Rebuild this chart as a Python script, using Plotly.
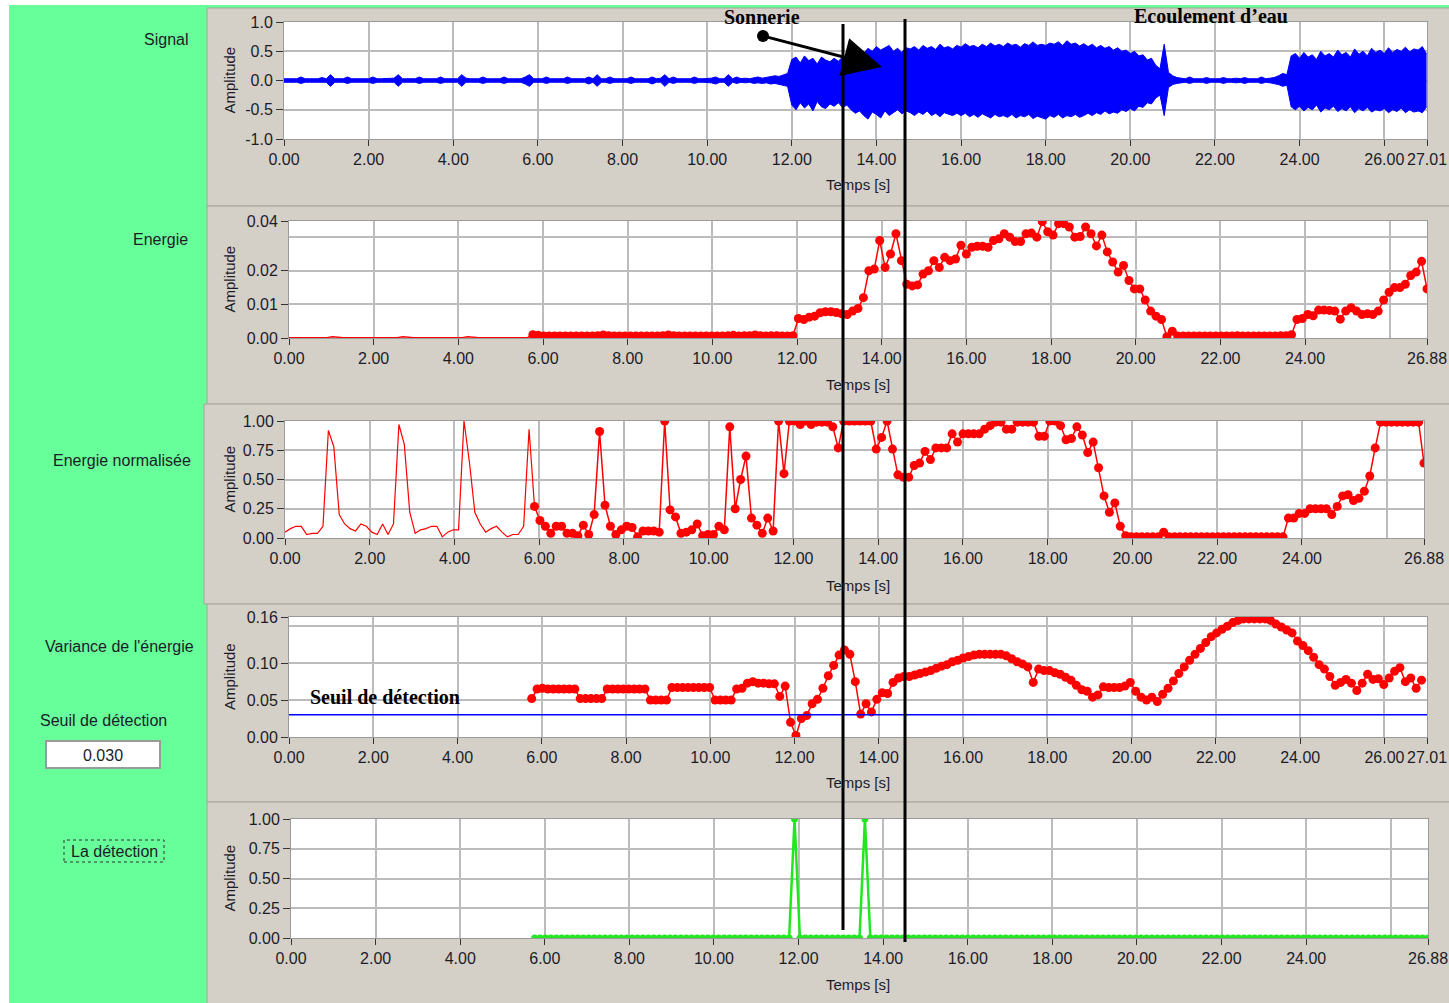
import numpy as np
import plotly.graph_objects as go

# ---------------- DATA ----------------
# frame times (s): one frame every 0.128 s, 211 frames (0 .. 26.88 s)
temps = np.round(np.arange(211) * 0.128, 3)
# signal envelope sampled every 0.1 s (0 .. 27.0 s)
temps_signal = np.round(np.arange(271) * 0.1, 1)

signal_haut = [
    0.03, 0.03, 0.03, 0.03, 0.06, 0.03, 0.03, 0.03, 0.03, 0.05,
    0.03, 0.10, 0.03, 0.03, 0.03, 0.06, 0.03, 0.03, 0.03, 0.03,
    0.03, 0.06, 0.03, 0.03, 0.03, 0.03, 0.04, 0.10, 0.03, 0.03,
    0.03, 0.03, 0.06, 0.03, 0.03, 0.03, 0.03, 0.06, 0.03, 0.03,
    0.03, 0.03, 0.10, 0.04, 0.03, 0.03, 0.03, 0.06, 0.03, 0.03,
    0.03, 0.03, 0.06, 0.03, 0.03, 0.03, 0.03, 0.06, 0.10, 0.03,
    0.03, 0.03, 0.06, 0.03, 0.03, 0.03, 0.03, 0.06, 0.03, 0.03,
    0.03, 0.03, 0.06, 0.03, 0.10, 0.03, 0.03, 0.06, 0.03, 0.03,
    0.03, 0.03, 0.06, 0.03, 0.03, 0.03, 0.03, 0.06, 0.03, 0.04,
    0.10, 0.03, 0.06, 0.03, 0.03, 0.03, 0.03, 0.06, 0.03, 0.03,
    0.03, 0.04, 0.06, 0.03, 0.03, 0.10, 0.03, 0.06, 0.03, 0.04,
    0.03, 0.05, 0.06, 0.04, 0.05, 0.06, 0.08, 0.07, 0.10, 0.12,
    0.36, 0.40, 0.30, 0.42, 0.34, 0.38, 0.28, 0.40, 0.35, 0.32,
    0.38, 0.33, 0.40, 0.36, 0.44, 0.40, 0.50, 0.46, 0.55, 0.50,
    0.58, 0.52, 0.56, 0.60, 0.50, 0.55, 0.48, 0.56, 0.54, 0.58,
    0.52, 0.60, 0.55, 0.58, 0.53, 0.62, 0.56, 0.58, 0.54, 0.60,
    0.57, 0.63, 0.58, 0.60, 0.56, 0.62, 0.58, 0.64, 0.59, 0.62,
    0.58, 0.64, 0.60, 0.62, 0.57, 0.63, 0.60, 0.66, 0.60, 0.62,
    0.60, 0.64, 0.62, 0.66, 0.60, 0.68, 0.62, 0.64, 0.59, 0.63,
    0.58, 0.62, 0.56, 0.60, 0.55, 0.58, 0.52, 0.56, 0.50, 0.52,
    0.46, 0.50, 0.42, 0.44, 0.35, 0.38, 0.26, 0.20, 0.62, 0.14,
    0.08, 0.05, 0.04, 0.03, 0.06, 0.03, 0.03, 0.03, 0.05, 0.03,
    0.03, 0.03, 0.05, 0.03, 0.03, 0.04, 0.03, 0.05, 0.03, 0.03,
    0.03, 0.06, 0.03, 0.04, 0.05, 0.08, 0.12, 0.10, 0.42, 0.46,
    0.38, 0.48, 0.40, 0.44, 0.36, 0.50, 0.42, 0.46, 0.40, 0.52,
    0.44, 0.48, 0.40, 0.54, 0.45, 0.50, 0.42, 0.55, 0.48, 0.52,
    0.46, 0.56, 0.48, 0.53, 0.50, 0.57, 0.49, 0.54, 0.52, 0.58,
    0.45,
]
signal_bas = [
    -0.03, -0.03, -0.03, -0.03, -0.05, -0.03, -0.03, -0.03, -0.03, -0.04,
    -0.03, -0.10, -0.03, -0.03, -0.03, -0.05, -0.03, -0.03, -0.03, -0.03,
    -0.03, -0.05, -0.03, -0.03, -0.03, -0.03, -0.03, -0.10, -0.03, -0.03,
    -0.03, -0.03, -0.05, -0.03, -0.03, -0.03, -0.03, -0.05, -0.03, -0.03,
    -0.03, -0.03, -0.10, -0.03, -0.03, -0.03, -0.03, -0.05, -0.03, -0.03,
    -0.03, -0.03, -0.05, -0.03, -0.03, -0.03, -0.03, -0.06, -0.10, -0.03,
    -0.03, -0.03, -0.05, -0.03, -0.03, -0.03, -0.03, -0.05, -0.03, -0.03,
    -0.03, -0.03, -0.06, -0.03, -0.10, -0.03, -0.03, -0.05, -0.03, -0.03,
    -0.03, -0.03, -0.05, -0.03, -0.03, -0.03, -0.03, -0.06, -0.03, -0.03,
    -0.10, -0.03, -0.05, -0.03, -0.03, -0.03, -0.03, -0.05, -0.03, -0.03,
    -0.03, -0.04, -0.06, -0.03, -0.03, -0.10, -0.03, -0.05, -0.03, -0.04,
    -0.03, -0.05, -0.04, -0.05, -0.04, -0.06, -0.05, -0.07, -0.08, -0.10,
    -0.42, -0.50, -0.38, -0.47, -0.40, -0.52, -0.36, -0.45, -0.48, -0.40,
    -0.44, -0.38, -0.46, -0.42, -0.50, -0.56, -0.52, -0.60, -0.66, -0.54,
    -0.58, -0.64, -0.52, -0.60, -0.55, -0.50, -0.57, -0.52, -0.55, -0.60,
    -0.54, -0.58, -0.52, -0.60, -0.56, -0.62, -0.55, -0.58, -0.60, -0.56,
    -0.60, -0.56, -0.62, -0.58, -0.63, -0.57, -0.60, -0.64, -0.58, -0.62,
    -0.60, -0.63, -0.58, -0.64, -0.60, -0.62, -0.58, -0.65, -0.61, -0.63,
    -0.66, -0.60, -0.63, -0.58, -0.64, -0.60, -0.62, -0.58, -0.63, -0.60,
    -0.56, -0.60, -0.55, -0.58, -0.52, -0.57, -0.54, -0.56, -0.50, -0.53,
    -0.48, -0.52, -0.44, -0.46, -0.38, -0.40, -0.30, -0.25, -0.60, -0.12,
    -0.07, -0.05, -0.04, -0.03, -0.05, -0.03, -0.03, -0.03, -0.05, -0.03,
    -0.03, -0.03, -0.05, -0.03, -0.03, -0.04, -0.03, -0.05, -0.03, -0.03,
    -0.03, -0.05, -0.03, -0.04, -0.05, -0.07, -0.10, -0.08, -0.45, -0.50,
    -0.44, -0.52, -0.46, -0.50, -0.42, -0.54, -0.47, -0.50, -0.44, -0.53,
    -0.48, -0.52, -0.45, -0.55, -0.48, -0.52, -0.46, -0.54, -0.50, -0.52,
    -0.48, -0.55, -0.50, -0.53, -0.47, -0.55, -0.50, -0.54, -0.52, -0.55,
    -0.45,
]

energie = [
    0.0001, 0.0001, 0.0001, 0.0001, 0.0001, 0.0001, 0.0001, 0.0001, 0.0004, 0.0002,
    0.0001, 0.0001, 0.0001, 0.0001, 0.0001, 0.0001, 0.0001, 0.0001, 0.0001, 0.0001,
    0.0001, 0.0004, 0.0002, 0.0001, 0.0001, 0.0001, 0.0001, 0.0001, 0.0001, 0.0001,
    0.0001, 0.0001, 0.0001, 0.0004, 0.0002, 0.0001, 0.0001, 0.0001, 0.0001, 0.0001,
    0.0001, 0.0001, 0.0001, 0.0001, 0.0001, 0.0010, 0.0008, 0.0006, 0.0006, 0.0006,
    0.0006, 0.0006, 0.0006, 0.0006, 0.0006, 0.0006, 0.0006, 0.0007, 0.0009, 0.0007,
    0.0006, 0.0006, 0.0006, 0.0006, 0.0006, 0.0006, 0.0006, 0.0006, 0.0006, 0.0007,
    0.0009, 0.0007, 0.0006, 0.0006, 0.0006, 0.0006, 0.0006, 0.0006, 0.0006, 0.0006,
    0.0006, 0.0007, 0.0008, 0.0006, 0.0007, 0.0007, 0.0009, 0.0007, 0.0006, 0.0007,
    0.0007, 0.0006, 0.0006, 0.0007, 0.0058, 0.0055, 0.0062, 0.0065, 0.0075, 0.0078,
    0.0078, 0.0076, 0.0072, 0.0070, 0.0080, 0.0088, 0.0120, 0.0200, 0.0205, 0.0290,
    0.0210, 0.0250, 0.0310, 0.0230, 0.0160, 0.0155, 0.0158, 0.0190, 0.0200, 0.0230,
    0.0210, 0.0240, 0.0230, 0.0235, 0.0276, 0.0250, 0.0270, 0.0273, 0.0273, 0.0270,
    0.0290, 0.0295, 0.0310, 0.0300, 0.0287, 0.0287, 0.0310, 0.0312, 0.0300, 0.0346,
    0.0316, 0.0306, 0.0340, 0.0340, 0.0330, 0.0300, 0.0302, 0.0330, 0.0310, 0.0274,
    0.0306, 0.0256, 0.0226, 0.0196, 0.0216, 0.0171, 0.0146, 0.0146, 0.0113, 0.0080,
    0.0065, 0.0055, 0.0004, 0.0020, 0.0006, 0.0006, 0.0006, 0.0006, 0.0006, 0.0006,
    0.0006, 0.0006, 0.0006, 0.0006, 0.0006, 0.0007, 0.0006, 0.0006, 0.0006, 0.0006,
    0.0006, 0.0006, 0.0006, 0.0007, 0.0007, 0.0010, 0.0055, 0.0058, 0.0070, 0.0066,
    0.0083, 0.0083, 0.0082, 0.0080, 0.0056, 0.0080, 0.0090, 0.0080, 0.0070, 0.0072,
    0.0070, 0.0080, 0.0113, 0.0136, 0.0150, 0.0150, 0.0160, 0.0186, 0.0196, 0.0228,
    0.0146,
]

energie_norm = [
    0.05, 0.08, 0.10, 0.10, 0.03, 0.04, 0.04, 0.10, 0.92, 0.78,
    0.20, 0.12, 0.08, 0.06, 0.12, 0.10, 0.05, 0.03, 0.12, 0.03,
    0.12, 0.97, 0.80, 0.22, 0.04, 0.07, 0.08, 0.10, 0.10, 0.01,
    0.05, 0.07, 0.07, 1.00, 0.65, 0.22, 0.12, 0.05, 0.08, 0.10,
    0.05, 0.01, 0.03, 0.03, 0.10, 0.93, 0.27, 0.15, 0.10, 0.04,
    0.10, 0.10, 0.04, 0.04, 0.02, 0.11, 0.03, 0.20, 0.91, 0.28,
    0.10, 0.03, 0.07, 0.10, 0.09, 0.01, 0.06, 0.06, 0.06, 0.05,
    1.00, 0.24, 0.18, 0.04, 0.05, 0.07, 0.12, 0.02, 0.03, 0.03,
    0.10, 0.07, 0.95, 0.25, 0.50, 0.70, 0.17, 0.11, 0.04, 0.17,
    0.06, 1.00, 0.55, 1.00, 1.00, 0.97, 1.00, 0.97, 0.99, 0.99,
    0.99, 0.95, 0.77, 1.00, 1.00, 1.00, 1.00, 1.00, 1.00, 0.76,
    0.86, 1.00, 0.76, 0.54, 0.52, 0.52, 0.62, 0.64, 0.74, 0.67,
    0.77, 0.77, 0.77, 0.89, 0.82, 0.89, 0.89, 0.89, 0.89, 0.93,
    0.96, 0.99, 0.99, 0.93, 0.93, 0.99, 0.99, 0.99, 0.99, 0.87,
    0.87, 1.00, 1.00, 0.96, 0.84, 0.85, 0.95, 0.88, 0.73, 0.82,
    0.60, 0.36, 0.22, 0.30, 0.10, 0.02, 0.01, 0.01, 0.01, 0.01,
    0.01, 0.01, 0.05, 0.01, 0.01, 0.01, 0.01, 0.01, 0.01, 0.01,
    0.01, 0.01, 0.01, 0.01, 0.01, 0.01, 0.01, 0.01, 0.01, 0.01,
    0.01, 0.01, 0.01, 0.01, 0.01, 0.17, 0.17, 0.21, 0.21, 0.25,
    0.25, 0.25, 0.25, 0.20, 0.27, 0.36, 0.37, 0.32, 0.34, 0.40,
    0.53, 0.77, 0.99, 0.99, 0.99, 0.99, 0.99, 0.99, 0.99, 0.99,
    0.64,
]

# variance and detection start at frame 45 (5.76 s)
debut_variance = 45
variance = [
    0.052, 0.065, 0.066, 0.065, 0.065,
    0.065, 0.065, 0.065, 0.065, 0.052, 0.052, 0.052, 0.052, 0.052, 0.065,
    0.065, 0.065, 0.065, 0.065, 0.065, 0.065, 0.065, 0.050, 0.050, 0.050,
    0.050, 0.067, 0.067, 0.067, 0.067, 0.067, 0.067, 0.067, 0.067, 0.050,
    0.050, 0.050, 0.050, 0.065, 0.066, 0.073, 0.075, 0.073, 0.073, 0.072,
    0.072, 0.055, 0.069, 0.020, 0.002, 0.025, 0.029, 0.045, 0.051, 0.066,
    0.083, 0.097, 0.111, 0.118, 0.112, 0.075, 0.031, 0.045, 0.034, 0.051,
    0.060, 0.059, 0.074, 0.080, 0.082, 0.082, 0.084, 0.086, 0.088, 0.090,
    0.093, 0.096, 0.098, 0.102, 0.104, 0.107, 0.109, 0.111, 0.112, 0.112,
    0.112, 0.112, 0.112, 0.110, 0.106, 0.102, 0.099, 0.095, 0.074, 0.092,
    0.090, 0.090, 0.087, 0.085, 0.081, 0.077, 0.070, 0.064, 0.062, 0.054,
    0.057, 0.068, 0.067, 0.067, 0.067, 0.069, 0.074, 0.062, 0.054, 0.050,
    0.054, 0.048, 0.058, 0.066, 0.076, 0.086, 0.095, 0.104, 0.112, 0.120,
    0.128, 0.136, 0.141, 0.146, 0.150, 0.155, 0.158, 0.160, 0.160, 0.160,
    0.160, 0.160, 0.158, 0.153, 0.149, 0.145, 0.141, 0.130, 0.124, 0.117,
    0.108, 0.098, 0.092, 0.082, 0.070, 0.074, 0.078, 0.073, 0.063, 0.073,
    0.085, 0.078, 0.079, 0.071, 0.080, 0.089, 0.094, 0.075, 0.080, 0.066,
    0.077,
]

detection = [
    0, 0, 0, 0, 0, 0, 0, 0, 0, 0, 0, 0, 0, 0, 0, 0, 0, 0, 0, 0,
    0, 0, 0, 0, 0, 0, 0, 0, 0, 0, 0, 0, 0, 0, 0, 0, 0, 0, 0, 0,
    0, 0, 0, 0, 0, 0, 0, 0, 1, 0, 0, 0, 0, 0, 0, 0, 0, 0, 0, 0,
    0, 1, 0, 0, 0, 0, 0, 0, 0, 0, 0, 0, 0, 0, 0, 0, 0, 0, 0, 0,
    0, 0, 0, 0, 0, 0, 0, 0, 0, 0, 0, 0, 0, 0, 0, 0, 0, 0, 0, 0,
    0, 0, 0, 0, 0, 0, 0, 0, 0, 0, 0, 0, 0, 0, 0, 0, 0, 0, 0, 0,
    0, 0, 0, 0, 0, 0, 0, 0, 0, 0, 0, 0, 0, 0, 0, 0, 0, 0, 0, 0,
    0, 0, 0, 0, 0, 0, 0, 0, 0, 0, 0, 0, 0, 0, 0, 0, 0, 0, 0, 0,
    0, 0, 0, 0, 0, 0,
]

seuil = 0.030

x_max_long = 27.01
x_max_court = 26.88
ticks_x = [0, 2, 4, 6, 8, 10, 12, 14, 16, 18, 20, 22, 24, 26]

y_signal_ticks = [-1.0, -0.5, 0.0, 0.5, 1.0]
y_energie_max = 0.0348
y_energie_ticks = [0.0, 0.01, 0.02]
y_norm_ticks = [0.0, 0.25, 0.5, 0.75, 1.0]
y_var_max = 0.1626
y_var_ticks = [0.0, 0.05, 0.10]

# ---------------- FIGURE ----------------
W, H = 1449, 1003


def px(x):
    return x / W


def py(y):
    return 1 - y / H


GREEN = "#66ff99"
GRAY = "#d4d0c8"
GRID = "#bcbcbc"
RED = "#ff0000"
BLUE = "#0000ff"
LIME = "#22e622"
TXT = "#1c1c28"
FONT = "Liberation Sans"
TF = dict(family=FONT, size=16, color=TXT)

t_var = temps[debut_variance:]

fig = go.Figure()

# Signal (envelope band)
fig.add_trace(go.Scatter(x=temps_signal, y=signal_haut, mode="lines",
                         line=dict(color=BLUE, width=1), xaxis="x", yaxis="y"))
fig.add_trace(go.Scatter(x=temps_signal, y=signal_bas, mode="lines", fill="tonexty",
                         fillcolor=BLUE, line=dict(color=BLUE, width=1),
                         xaxis="x", yaxis="y"))

# Energie
fig.add_trace(go.Scatter(x=temps[:46], y=energie[:46], mode="lines",
                         line=dict(color=RED, width=1.5), xaxis="x2", yaxis="y2"))
fig.add_trace(go.Scatter(x=temps[45:], y=energie[45:], mode="lines+markers",
                         line=dict(color=RED, width=1.5),
                         marker=dict(color=RED, size=9), xaxis="x2", yaxis="y2"))

# Energie normalisee
fig.add_trace(go.Scatter(x=temps[:47], y=energie_norm[:47], mode="lines",
                         line=dict(color=RED, width=1.2), xaxis="x3", yaxis="y3"))
fig.add_trace(go.Scatter(x=temps[46:], y=energie_norm[46:], mode="lines+markers",
                         line=dict(color=RED, width=1.5),
                         marker=dict(color=RED, size=9), xaxis="x3", yaxis="y3"))

# Variance
fig.add_trace(go.Scatter(x=t_var, y=variance, mode="lines+markers",
                         line=dict(color=RED, width=1.5),
                         marker=dict(color=RED, size=9), xaxis="x4", yaxis="y4"))

# Detection
fig.add_trace(go.Scatter(x=t_var, y=detection, mode="lines+markers",
                         line=dict(color=LIME, width=2.5),
                         marker=dict(color=LIME, size=7), xaxis="x5", yaxis="y5"))


def fmt(v):
    return "%.2f" % v


def xaxis(dom, xmax, anchor, gap26):
    tv = list(ticks_x)
    if gap26:
        tv = tv[:-1]
    tv = tv + [xmax]
    d = dict(domain=[px(dom[0]), px(dom[1])], range=[0, xmax], tickmode="array",
             tickvals=tv, ticktext=[fmt(v) for v in tv], tickangle=0,
             showgrid=True, gridcolor=GRID, gridwidth=1.5, ticks="outside",
             ticklen=6, tickwidth=1, tickcolor="#333333", tickfont=TF,
             showline=True, linecolor="#9a9a9a", linewidth=1, mirror=True,
             zeroline=False, anchor=anchor, fixedrange=True, automargin=False)
    if gap26:
        d["minor"] = dict(tickmode="array", tickvals=[26], showgrid=True,
                          gridcolor=GRID, gridwidth=1.5, ticks="")
    return d


def yaxis(dom, rng, tv, tt, anchor, minor=None):
    d = dict(domain=[py(dom[1]), py(dom[0])], range=rng, tickmode="array",
             tickvals=tv, ticktext=tt, showgrid=True, gridcolor=GRID, gridwidth=1.5,
             ticks="outside", ticklen=7, tickwidth=1, tickcolor="#333333",
             tickfont=TF, showline=True, linecolor="#9a9a9a", linewidth=1,
             mirror=True, zeroline=False, anchor=anchor, fixedrange=True,
             automargin=False)
    if minor is not None:
        d["minor"] = dict(tickmode="array", tickvals=minor, showgrid=True,
                          gridcolor=GRID, gridwidth=1.5, ticks="")
    return d


plots = [
    (284, 1427, 22, 139),
    (289, 1427, 221, 338),
    (285, 1424, 421, 538),
    (289, 1427, 617, 737),
    (291, 1428, 819, 938),
]

layout = dict(
    template="none",
    width=W, height=H, autosize=False,
    margin=dict(l=0, r=0, t=0, b=0, pad=0, autoexpand=False),
    paper_bgcolor="white", plot_bgcolor="rgba(0,0,0,0)",
    showlegend=False,
)
layout["xaxis"] = xaxis(plots[0][:2], x_max_long, "y", False)
layout["yaxis"] = yaxis(plots[0][2:], [-1, 1], y_signal_ticks,
                        ["%.1f" % v for v in y_signal_ticks], "x")
layout["xaxis2"] = xaxis(plots[1][:2], x_max_court, "y2", True)
layout["yaxis2"] = yaxis(plots[1][2:], [0, y_energie_max],
                         y_energie_ticks + [y_energie_max],
                         [fmt(v) for v in y_energie_ticks] + ["0.04"], "x2", minor=[0.03])
layout["xaxis3"] = xaxis(plots[2][:2], x_max_court, "y3", True)
layout["yaxis3"] = yaxis(plots[2][2:], [0, 1], y_norm_ticks,
                         [fmt(v) for v in y_norm_ticks], "x3")
layout["xaxis4"] = xaxis(plots[3][:2], x_max_long, "y4", False)
layout["yaxis4"] = yaxis(plots[3][2:], [0, y_var_max], y_var_ticks + [y_var_max],
                         [fmt(v) for v in y_var_ticks] + ["0.16"], "x4", minor=[0.15])
layout["xaxis5"] = xaxis(plots[4][:2], x_max_court, "y5", True)
layout["yaxis5"] = yaxis(plots[4][2:], [0, 1], y_norm_ticks,
                         [fmt(v) for v in y_norm_ticks], "x5")
fig.update_layout(**layout)

shapes = []


def rect(x0, y0, x1, y1, fill, line=None, lw=1, layer="below", dash=None):
    s = dict(type="rect", xref="paper", yref="paper", x0=px(x0), x1=px(x1),
             y0=py(y1), y1=py(y0), fillcolor=fill, layer=layer,
             line=dict(width=lw if line else 0, color=line or "rgba(0,0,0,0)"))
    if dash:
        s["line"]["dash"] = dash
    shapes.append(s)


# background
rect(9, 5, W, H, GREEN)
panels = [(207, 8, W + 2, 206), (207, 206, W + 2, 404), (204, 404, W + 2, 604),
          (207, 604, W + 2, 802), (207, 802, W + 2, H + 2)]
for (a, b, c, d) in panels:
    rect(a, b, c, d, GRAY, line="#a8a49c", lw=1)
for (a, c, b, d) in plots:
    rect(a, b, c, d, "white")

# threshold value box and dotted label box
rect(46, 741, 160, 768, "white", line="#9a9a9a", lw=2)
rect(64, 840, 164, 862, "rgba(0,0,0,0)", line="#333333", lw=1, dash="dot")

# threshold line in variance plot
shapes.append(dict(type="line", xref="x4 domain", yref="y4", x0=0, x1=1,
                   y0=seuil, y1=seuil, line=dict(color=BLUE, width=1.5), layer="above"))

# vertical black marker lines
shapes.append(dict(type="line", xref="paper", yref="paper", x0=px(843), x1=px(843),
                   y0=py(24), y1=py(930), line=dict(color="black", width=3), layer="above"))
shapes.append(dict(type="line", xref="paper", yref="paper", x0=px(905), x1=px(905),
                   y0=py(19), y1=py(942), line=dict(color="black", width=3), layer="above"))
# dot at arrow tail
shapes.append(dict(type="circle", xref="paper", yref="paper", x0=px(757), x1=px(769),
                   y0=py(42), y1=py(30), fillcolor="black", line=dict(width=0),
                   layer="above"))
fig.update_layout(shapes=shapes)

ann = []


def text(x, y, s, anchor="center", size=16, family=FONT, color=TXT, angle=0):
    ann.append(dict(x=px(x), y=py(y), xref="paper", yref="paper", text=s,
                    showarrow=False, xanchor=anchor, yanchor="middle",
                    textangle=angle, font=dict(family=family, size=size, color=color)))


# left labels
text(190, 40, "Signal", "right")
text(190, 239, "Energie", "right")
text(193, 460, "Energie normalisée", "right")
text(196, 646, "Variance de l'énergie", "right")
text(103, 720, "Seuil de détection")
text(103, 755, "0.030")
text(114, 851, "La détection")

# axis titles
for (a, c, b, d), xt in zip(plots, [185, 384, 585, 782, 984]):
    text(229, (b + d) / 2, "Amplitude", angle=-90, size=15)
    text(858, xt, "Temps [s]", size=15)

# bold serif annotations
SERIF = "Liberation Serif"
text(762, 17, "<b>Sonnerie</b>", size=20, family=SERIF, color="black")
text(1211, 16, "<b>Ecoulement d’eau</b>", size=20, family=SERIF, color="black")
text(385, 697, "<b>Seuil de détection</b>", size=20, family=SERIF, color="black")

# arrow
ann.append(dict(x=px(882), y=py(67), xref="paper", yref="paper", text="",
                showarrow=True, ax=763 - 882, ay=36 - 67, axref="pixel", ayref="pixel",
                arrowhead=2, arrowsize=2.6, arrowwidth=3, arrowcolor="black"))

fig.update_layout(annotations=ann)

fig.write_html("out.html", config={"displayModeBar": False})

# remove default page margins so the 1449x1003 figure fills the window exactly
with open("out.html", "r", encoding="utf-8") as f:
    html = f.read()
html = html.replace("<head>", "<head><style>html,body{margin:0;padding:0;overflow:hidden;}</style>", 1)
with open("out.html", "w", encoding="utf-8") as f:
    f.write(html)
